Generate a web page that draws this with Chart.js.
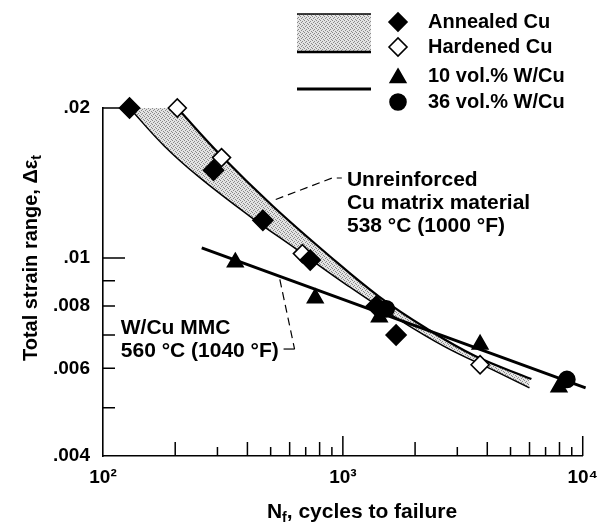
<!DOCTYPE html>
<html>
<head>
<meta charset="utf-8">
<script src="https://cdn.jsdelivr.net/npm/chart.js@4.4.0/dist/chart.umd.min.js"></script>
<style>
  html, body { margin: 0; padding: 0; background: #fff; }
  #wrap { width: 608px; height: 525px; }
</style>
</head>
<body>
<div id="wrap"><canvas id="c" width="608" height="525"></canvas></div>
<script>
// cycles to failure (x) and total strain range (y)
const annealedN = [129, 289, 464, 731, 1380, 1667];
const annealedE = [0.0200, 0.0150, 0.0119, 0.0099, 0.0080, 0.0070];
const hardenedN = [204, 312, 678, 3733];
const hardenedE = [0.0200, 0.0159, 0.0102, 0.0061];
const wcu10N = [356, 767, 1419, 3733, 7960];
const wcu10E = [0.0098, 0.0083, 0.0076, 0.0067, 0.0055];
const wcu36N = [1517, 8590];
const wcu36E = [0.0079, 0.0057];

// W/Cu MMC fit line
const mmcN = [258, 10280];
const mmcE = [0.01047, 0.00548];

// scatter band of the unreinforced Cu
const bandUpN = [129, 198, 204, 309, 510, 860, 1420, 2217, 3560, 6110];
const bandUpE = [0.0200, 0.0200, 0.0200, 0.01609, 0.01271, 0.01018, 0.00835, 0.00723, 0.00635, 0.00571];
const bandLoN = [129, 180, 251, 403, 647, 1039, 1668, 2679, 4302, 5996];
const bandLoE = [0.0200, 0.01678, 0.01454, 0.01219, 0.01037, 0.00882, 0.00758, 0.00662, 0.00593, 0.00548];

const xTicks = [100, 200, 300, 400, 500, 600, 700, 800, 900, 1000, 2000, 3000, 4000, 5000, 6000, 7000, 8000, 9000, 10000];
const xTickLabels = ['10²', '', '', '', '', '', '', '', '', '10³', '', '', '', '', '', '', '', '', '10⁴'];
const yTicks = [0.004, 0.005, 0.006, 0.007, 0.008, 0.009, 0.01, 0.02];
const yTickLabels = ['.004', '', '.006', '', '.008', '', '.01', '.02'];

const legendItems = ['Annealed Cu', 'Hardened Cu', '10 vol.% W/Cu', '36 vol.% W/Cu'];
const noteCu = ['Unreinforced', 'Cu matrix material', '538 °C (1000 °F)'];
const noteMmc = ['W/Cu MMC', '560 °C (1040 °F)'];

const FAMILY = '"Liberation Sans", Arial, sans-serif';
const FONT = 'bold 20px ' + FAMILY;
const NOTEFONT = 'bold 21px ' + FAMILY;
const SUBFONT = 'bold 14px ' + FAMILY;

const pts = (ns, es) => ns.map((n, i) => ({ x: n, y: es[i] }));
const findLabel = (list, labels, v) => {
  const i = list.findIndex(t => Math.abs(t - v) / t < 1e-6);
  return i < 0 ? '' : labels[i];
};

function stipple() {
  const c = document.createElement('canvas');
  c.width = 4; c.height = 4;
  const g = c.getContext('2d');
  g.fillStyle = '#e4e4e4';
  g.fillRect(0, 0, 4, 4);
  g.fillStyle = '#8a8a8a';
  [[0, 0], [2, 1], [1, 2], [3, 3]].forEach(p => g.fillRect(p[0], p[1], 1, 1));
  return g.createPattern(c, 'repeat');
}
const bandFill = stipple();

function marker(ctx, style, r, filled, x, y) {
  ctx.save();
  ctx.fillStyle = filled ? '#000' : '#fff';
  ctx.strokeStyle = '#000';
  ctx.lineWidth = 1.6;
  Chart.helpers.drawPoint(ctx, { pointStyle: style, radius: r, rotation: 0, borderWidth: 1.6 }, x, y);
  ctx.restore();
}

const tickMarks = {
  id: 'tickMarks',
  beforeDatasetsDraw(chart) {
    const { ctx, chartArea: a, scales: { x, y } } = chart;
    ctx.save();
    ctx.strokeStyle = '#000';
    ctx.lineWidth = 1.5;
    ctx.beginPath();
    xTicks.forEach(v => {
      if (v === 100) return;
      const px = x.getPixelForValue(v);
      const m = Math.round(v / Math.pow(10, Math.floor(Math.log10(v) + 1e-9)));
      const len = m === 1 ? 20 : (m % 2 === 0 ? 14 : 9);
      ctx.moveTo(px, a.bottom);
      ctx.lineTo(px, a.bottom - len);
    });
    yTicks.forEach(v => {
      if (v === 0.004) return;
      const py = y.getPixelForValue(v);
      const len = v === 0.02 ? 20 : (v === 0.01 ? 22 : 12);
      ctx.moveTo(a.left, py);
      ctx.lineTo(a.left + len, py);
    });
    ctx.stroke();
    ctx.restore();
  }
};

const decor = {
  id: 'decor',
  afterDraw(chart) {
    const { ctx, scales: { x, y } } = chart;
    ctx.save();
    ctx.fillStyle = '#000';
    ctx.strokeStyle = '#000';
    ctx.textBaseline = 'middle';
    ctx.textAlign = 'left';

    // notes
    ctx.font = NOTEFONT;
    const ux = x.getPixelForValue(1040), uy = y.getPixelForValue(0.0143);
    noteCu.forEach((t, i) => ctx.fillText(t, ux, uy + i * 23));
    const wx = x.getPixelForValue(118.6), wy = y.getPixelForValue(0.00723);
    noteMmc.forEach((t, i) => ctx.fillText(t, wx, wy + i * 23));

    // leaders
    ctx.lineWidth = 1.2;
    ctx.setLineDash([8, 5]);
    ctx.beginPath();
    ctx.moveTo(x.getPixelForValue(525), y.getPixelForValue(0.0131));
    ctx.lineTo(x.getPixelForValue(902), y.getPixelForValue(0.01447));
    ctx.lineTo(x.getPixelForValue(990), y.getPixelForValue(0.01447));
    ctx.moveTo(x.getPixelForValue(546), y.getPixelForValue(0.00905));
    ctx.lineTo(x.getPixelForValue(629), y.getPixelForValue(0.00656));
    ctx.stroke();
    ctx.setLineDash([]);
    ctx.beginPath();
    ctx.moveTo(x.getPixelForValue(629), y.getPixelForValue(0.00656));
    ctx.lineTo(x.getPixelForValue(566), y.getPixelForValue(0.00656));
    ctx.stroke();

    // legend
    ctx.fillStyle = bandFill;
    ctx.fillRect(297, 14, 74, 38);
    ctx.beginPath();
    ctx.lineWidth = 1.5;
    ctx.moveTo(297, 14); ctx.lineTo(371, 14);
    ctx.stroke();
    ctx.beginPath();
    ctx.lineWidth = 2.5;
    ctx.moveTo(297, 52); ctx.lineTo(371, 52);
    ctx.stroke();
    ctx.beginPath();
    ctx.lineWidth = 3;
    ctx.moveTo(297, 89); ctx.lineTo(371, 89);
    ctx.stroke();
    const rows = [22, 47, 76, 102];
    marker(ctx, 'rectRot', 9, true, 398, rows[0]);
    marker(ctx, 'rectRot', 9, false, 398, rows[1]);
    marker(ctx, 'triangle', 9, true, 398, rows[2] + 2);
    marker(ctx, 'circle', 8, true, 398, rows[3]);
    ctx.fillStyle = '#000';
    ctx.font = FONT;
    legendItems.forEach((t, i) => ctx.fillText(t, 428, rows[i]));

    // x title with subscript
    ctx.textBaseline = 'alphabetic';
    const xt1 = 'N', xt2 = 'f', xt3 = ', cycles to failure';
    ctx.font = NOTEFONT;
    const w1 = ctx.measureText(xt1).width, w3 = ctx.measureText(xt3).width;
    ctx.font = SUBFONT;
    const w2 = ctx.measureText(xt2).width;
    let tx = 362 - (w1 + w2 + w3) / 2;
    const tb = 518;
    ctx.font = NOTEFONT; ctx.fillText(xt1, tx, tb); tx += w1;
    ctx.font = SUBFONT; ctx.fillText(xt2, tx, tb + 4); tx += w2;
    ctx.font = NOTEFONT; ctx.fillText(xt3, tx, tb);

    // y title with subscript, rotated
    const yt1 = 'Total strain range, Δε', yt2 = 't';
    ctx.font = FONT;
    const v1 = ctx.measureText(yt1).width;
    ctx.font = SUBFONT;
    const v2 = ctx.measureText(yt2).width;
    ctx.translate(30, 258);
    ctx.rotate(-Math.PI / 2);
    ctx.font = FONT; ctx.fillText(yt1, -(v1 + v2) / 2, 7);
    ctx.font = SUBFONT; ctx.fillText(yt2, -(v1 + v2) / 2 + v1, 11);
    ctx.restore();
  }
};

const lineDs = (ns, es, w, order) => ({
  data: pts(ns, es), showLine: true, borderColor: '#000', borderWidth: w,
  pointRadius: 0, fill: false, order: order, clip: false, tension: 0.4
});
const markDs = (ns, es, style, r, filled, order) => ({
  data: pts(ns, es), showLine: false, pointStyle: style, pointRadius: r,
  pointBackgroundColor: filled ? '#000' : '#fff', pointBorderColor: '#000',
  pointBorderWidth: 1.6, order: order, clip: false
});

const bandLo = lineDs(bandLoN, bandLoE, 1.5, 6);
// stippled area between the two band edges (no stroke)
const bandArea = lineDs(bandUpN, bandUpE, 0, 8);
bandArea.fill = '-1';
bandArea.backgroundColor = bandFill;
// upper edge is stroked only from the hardened Cu point down
const bandUp = lineDs(bandUpN.slice(2), bandUpE.slice(2), 2.2, 7);
const mmc = lineDs(mmcN, mmcE, 3, 5);
mmc.tension = 0;

new Chart(document.getElementById('c'), {
  type: 'line',
  data: {
    datasets: [
      bandLo,
      bandArea,
      bandUp,
      mmc,
      markDs(hardenedN, hardenedE, 'rectRot', 9, false, 3),
      markDs(wcu10N, wcu10E, 'triangle', 9, true, 2),
      markDs(wcu36N, wcu36E, 'circle', 8, true, 1),
      markDs(annealedN, annealedE, 'rectRot', 10, true, 0)
    ]
  },
  options: {
    responsive: false,
    animation: false,
    events: [],
    layout: { padding: { top: 108, right: 19, left: 0, bottom: 0 } },
    plugins: { legend: { display: false }, tooltip: { enabled: false } },
    scales: {
      x: {
        type: 'logarithmic', min: 100, max: 10000,
        grid: { display: false, drawTicks: false },
        border: { display: true, color: '#000', width: 1.6 },
        afterBuildTicks: s => { s.ticks = xTicks.map(v => ({ value: v })); },
        afterFit: s => { s.height = 69; },
        ticks: {
          autoSkip: false, maxRotation: 0, minRotation: 0, padding: 10, color: '#000',
          font: { family: FAMILY, size: 19, weight: 'bold' },
          callback: v => findLabel(xTicks, xTickLabels, v)
        }
      },
      y: {
        type: 'logarithmic', min: 0.004, max: 0.02,
        grid: { display: false, drawTicks: false },
        border: { display: true, color: '#000', width: 1.6 },
        afterBuildTicks: s => { s.ticks = yTicks.map(v => ({ value: v })); },
        afterFit: s => { s.width = 103; },
        ticks: {
          autoSkip: false, padding: 13, color: '#000',
          font: { family: FAMILY, size: 19, weight: 'bold' },
          callback: v => findLabel(yTicks, yTickLabels, v)
        }
      }
    }
  },
  plugins: [tickMarks, decor]
});
</script>
</body>
</html>
